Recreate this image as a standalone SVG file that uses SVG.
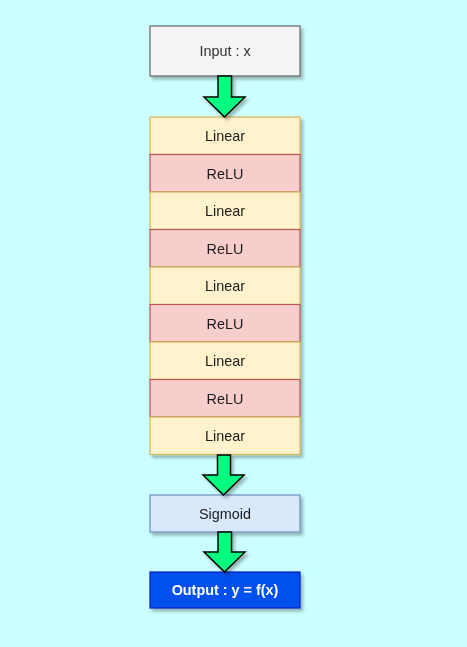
<svg xmlns="http://www.w3.org/2000/svg" width="467" height="647" viewBox="0 0 467 647">
<defs>
<filter id="sh" x="-20%" y="-20%" width="140%" height="150%">
<feDropShadow dx="2.5" dy="3" stdDeviation="1.6" flood-color="#000" flood-opacity="0.28"/>
</filter>
<style>
text{font-family:"Liberation Sans",Arial,sans-serif;font-size:14.4px;text-anchor:middle}
.in{fill:#F5F5F5;stroke:#666666;stroke-width:1.2}
.lin{fill:#FFF2CC;stroke:#D6B656;stroke-width:1.2}
.relu{fill:#F8CECC;stroke:#B85450;stroke-width:1.2}
.sig{fill:#DAE8FC;stroke:#6C8EBF;stroke-width:1.2}
.out{fill:#0050EF;stroke:#001DBC;stroke-width:1.2}
.arr{fill:#00FF80;stroke:#000;stroke-width:1.5;stroke-linejoin:miter}
.t{fill:#1a1a1a}
</style>
</defs>
<rect width="467" height="647" fill="#CCFFFF"/>

<g id="input" filter="url(#sh)">
<rect class="in" x="150" y="26" width="150" height="50"/>
<text x="225" y="56" fill="#333333">Input : x</text>
</g>

<g id="stack" filter="url(#sh)">
<g id="linear1"><rect class="lin" x="150" y="117" width="150" height="37.5"/><text class="t" x="225" y="141">Linear</text></g>
<g id="relu1"><rect class="relu" x="150" y="154.5" width="150" height="37.5"/><text class="t" x="225" y="178.5">ReLU</text></g>
<g id="linear2"><rect class="lin" x="150" y="192" width="150" height="37.5"/><text class="t" x="225" y="216">Linear</text></g>
<g id="relu2"><rect class="relu" x="150" y="229.5" width="150" height="37.5"/><text class="t" x="225" y="253.5">ReLU</text></g>
<g id="linear3"><rect class="lin" x="150" y="267" width="150" height="37.5"/><text class="t" x="225" y="291">Linear</text></g>
<g id="relu3"><rect class="relu" x="150" y="304.5" width="150" height="37.5"/><text class="t" x="225" y="328.5">ReLU</text></g>
<g id="linear4"><rect class="lin" x="150" y="342" width="150" height="37.5"/><text class="t" x="225" y="366">Linear</text></g>
<g id="relu4"><rect class="relu" x="150" y="379.5" width="150" height="37.5"/><text class="t" x="225" y="403.5">ReLU</text></g>
<g id="linear5"><rect class="lin" x="150" y="417" width="150" height="37.5"/><text class="t" x="225" y="441">Linear</text></g>
</g>

<g id="sigmoid" filter="url(#sh)">
<rect class="sig" x="150" y="495" width="150" height="37"/>
<text class="t" x="225" y="518.5">Sigmoid</text>
</g>

<g id="output" filter="url(#sh)">
<rect class="out" x="150" y="572" width="150" height="36"/>
<text x="225" y="595" fill="#FFFFFF" font-weight="bold">Output : y = f(x)</text>
</g>

<g id="connectors" filter="url(#sh)">
<path class="arr" d="M218,76 L231.5,76 L231.5,97 L245,97 L224.5,117 L204,97 L218,97 Z"/>
<path class="arr" d="M217.5,455 L230.5,455 L230.5,475 L244,475 L223.5,495 L203,475 L217.5,475 Z"/>
<path class="arr" d="M218,532 L231.5,532 L231.5,552 L245,552 L224.5,572 L204,552 L218,552 Z"/>
</g>
</svg>
